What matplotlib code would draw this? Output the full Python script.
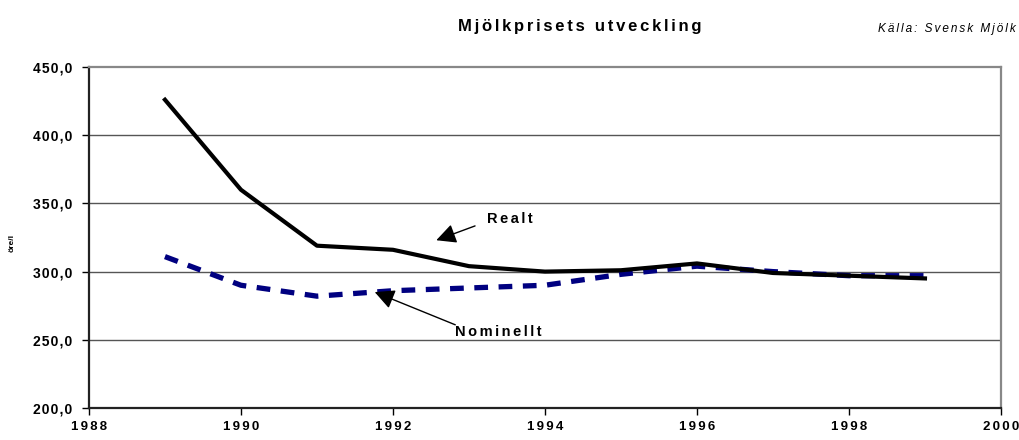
import matplotlib
matplotlib.use("Agg")
import matplotlib.pyplot as plt

years = [1989, 1990, 1991, 1992, 1993, 1994, 1995, 1996, 1997, 1998, 1999]
realt = [426, 360, 319, 316, 304, 300, 301, 306, 299, 297, 295]
nominellt = [311, 290, 282, 286, 288, 290, 298, 304, 300, 297, 297]

x_ticks = [1988, 1990, 1992, 1994, 1996, 1998, 2000]
y_ticks = [200, 250, 300, 350, 400, 450]

plt.rcParams["font.family"] = ["Liberation Sans", "DejaVu Sans"]

HAIR = "\u200a"


def spaced(s, n=2):
    # old Excel look: wide letter spacing
    return (HAIR * n).join(s)


fig = plt.figure(figsize=(10.19, 4.4), dpi=100)
ax = fig.add_axes([0.0873, 0.0727, 0.895, 0.775])

for y in y_ticks[1:-1]:
    ax.axhline(y, color="#555555", lw=1.0, zorder=1)

ax.plot(years, nominellt, color="#000080", lw=3.8, dashes=(2.6, 2.0),
        solid_capstyle="butt", dash_capstyle="butt", zorder=2)
ax.plot(years, realt, color="black", lw=3.0, zorder=3)

ax.set_xlim(1988, 2000)
ax.set_ylim(200, 450)
ax.set_xticks(x_ticks)
ax.set_yticks(y_ticks)
ax.set_xticklabels([spaced(str(v)) for v in x_ticks], fontsize=9.5, fontweight="bold")
ax.set_yticklabels([spaced(f"{v:.1f}".replace(".", ","), 1) for v in y_ticks],
                   fontsize=10, fontweight="bold")
ax.tick_params(direction="out", length=5, width=1, pad=7)
ax.tick_params(axis="x", pad=4)

ax.spines["left"].set_color("#222222")
ax.spines["bottom"].set_color("#222222")
ax.spines["top"].set_color("#888888")
ax.spines["right"].set_color("#888888")
for s in ax.spines.values():
    s.set_linewidth(1.6)

fig.text(0.012, 0.448, "öre/l", rotation=90, ha="center", va="center",
         fontsize=6, fontweight="bold")

ax.annotate("", xy=(1992.57, 323), xytext=(1993.08, 333.5),
            arrowprops=dict(arrowstyle="-|>", color="black", lw=1,
                            mutation_scale=30, shrinkA=0, shrinkB=0))
ax.text(1993.24, 338.5, spaced("Realt"), fontsize=10.5, fontweight="bold",
        va="center", ha="left")
ax.annotate("", xy=(1991.76, 285), xytext=(1992.82, 261),
            arrowprops=dict(arrowstyle="-|>", color="black", lw=1,
                            mutation_scale=30, shrinkA=0, shrinkB=0))
ax.text(1992.82, 256, spaced("Nominellt"), fontsize=10.5, fontweight="bold",
        va="center", ha="left")

fig.text(0.569, 0.94, spaced("Mjölkprisets utveckling"), ha="center",
         va="center", fontsize=12, fontweight="bold")
fig.text(0.997, 0.935, spaced("Källa: Svensk Mjölk"), ha="right", va="center",
         fontsize=8.5, style="italic")

fig.savefig("out.png", dpi=100)
